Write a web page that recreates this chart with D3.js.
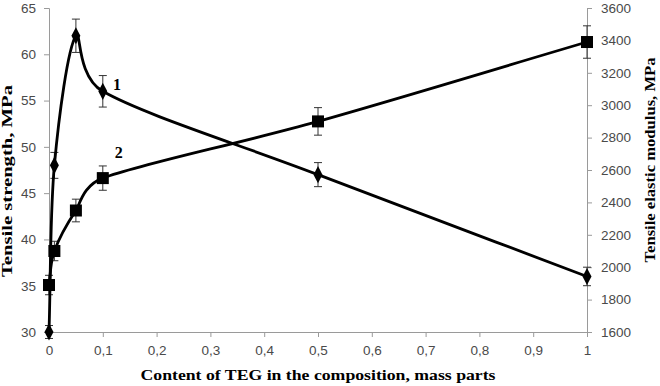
<!DOCTYPE html>
<html>
<head>
<meta charset="utf-8">
<script src="https://cdn.jsdelivr.net/npm/d3@7"></script>
<style>
  body { margin: 0; background: #fff; }
  .tick text { font-family: "Liberation Sans", Arial, sans-serif; font-size: 13.5px; fill: #4a4a4a; }
  .title { font-family: "Liberation Serif", "Times New Roman", serif; font-weight: bold; font-size: 14.5px; fill: #000; }
  .num { font-family: "Liberation Serif", "Times New Roman", serif; font-weight: bold; font-size: 16px; fill: #000; }
</style>
</head>
<body>
<div id="chart"></div>
<script>
// data
const teg = [0, 0.01, 0.05, 0.1, 0.5, 1];
const strength = [30, 48, 62, 56, 47, 36];          // MPa, left axis
const strengthErr = [0.7, 1.4, 1.8, 1.7, 1.3, 1.0];
const modulus = [1890, 2100, 2350, 2550, 2900, 3390]; // MPa, right axis
const modulusErr = [60, 60, 70, 75, 85, 100];
const xTicks = [0, 0.1, 0.2, 0.3, 0.4, 0.5, 0.6, 0.7, 0.8, 0.9, 1];
const leftTicks = [30, 35, 40, 45, 50, 55, 60, 65];
const rightTicks = [1600, 1800, 2000, 2200, 2400, 2600, 2800, 3000, 3200, 3400, 3600];

const W = 660, H = 386;
const margin = {top: 8, right: 73, bottom: 54, left: 49};

const svg = d3.select("#chart").append("svg")
    .attr("width", W)
    .attr("height", H);

const x = d3.scaleLinear().domain([0, 1]).range([margin.left, W - margin.right]);
const yL = d3.scaleLinear().domain([30, 65]).range([H - margin.bottom, margin.top]);
const yR = d3.scaleLinear().domain([1600, 3600]).range([H - margin.bottom, margin.top]);

const fmt = d => String(d).replace(".", ",");

// axes
const gx = svg.append("g")
    .attr("transform", `translate(0,${H - margin.bottom})`)
    .call(d3.axisBottom(x).tickValues(xTicks).tickFormat(fmt).tickSize(5).tickPadding(8));
const gl = svg.append("g")
    .attr("transform", `translate(${margin.left},0)`)
    .call(d3.axisLeft(yL).tickValues(leftTicks).tickSize(5).tickPadding(8));
const gr = svg.append("g")
    .attr("transform", `translate(${W - margin.right},0)`)
    .call(d3.axisRight(yR).tickValues(rightTicks).tickFormat(d => String(d)).tickSize(5).tickPadding(9));
[gx, gl, gr].forEach(g => {
    g.select(".domain").attr("stroke", "#9a9a9a");
    g.selectAll(".tick line").attr("stroke", "#9a9a9a");
});

// error bars
function errorBars(vals, errs, y) {
    const g = svg.append("g")
        .attr("stroke", "#333").attr("stroke-width", 1).attr("fill", "none");
    teg.forEach((t, i) => {
        const cx = x(t), top = y(vals[i] + errs[i]), bot = y(vals[i] - errs[i]);
        g.append("line").attr("x1", cx).attr("x2", cx).attr("y1", top).attr("y2", bot);
        g.append("line").attr("x1", cx - 4).attr("x2", cx + 4).attr("y1", top).attr("y2", top);
        g.append("line").attr("x1", cx - 4).attr("x2", cx + 4).attr("y1", bot).attr("y2", bot);
    });
}
errorBars(strength, strengthErr, yL);
errorBars(modulus, modulusErr, yR);

// Excel-style smoothed line (bezier control points limited to half segment length)
function smoothPath(pts) {
    const p = d3.path();
    const dist = (a, b) => Math.hypot(a[0] - b[0], a[1] - b[1]);
    p.moveTo(pts[0][0], pts[0][1]);
    for (let i = 0; i < pts.length - 1; i++) {
        const first = i === 0, last = i === pts.length - 2;
        const p0 = pts[first ? i : i - 1], p1 = pts[i], p2 = pts[i + 1], p3 = pts[last ? i + 1 : i + 2];
        const d02 = dist(p0, p2), d12 = dist(p1, p2), d13 = dist(p1, p3);
        let f, g;
        if (d02 / 6 < d12 / 2 && d13 / 6 < d12 / 2) {
            f = first ? 1 / 3 : 1 / 6;
            g = last ? 1 / 3 : 1 / 6;
        } else if (d02 / 6 >= d12 / 2 && d13 / 6 >= d12 / 2) {
            f = d12 / d02 / 2; g = d12 / d13 / 2;
        } else if (d02 / 6 >= d12 / 2) {
            f = d12 / d02 / 2; g = f;
        } else {
            g = d12 / d13 / 2; f = g;
        }
        p.bezierCurveTo(
            p1[0] + f * (p2[0] - p0[0]), p1[1] + f * (p2[1] - p0[1]),
            p2[0] - g * (p3[0] - p1[0]), p2[1] - g * (p3[1] - p1[1]),
            p2[0], p2[1]);
    }
    return p.toString();
}

svg.append("path")
    .attr("d", smoothPath(strength.map((d, i) => [x(teg[i]), yL(d)])))
    .attr("fill", "none").attr("stroke", "#000").attr("stroke-width", 2.8);
svg.append("path")
    .attr("d", smoothPath(modulus.map((d, i) => [x(teg[i]), yR(d)])))
    .attr("fill", "none").attr("stroke", "#000").attr("stroke-width", 2.8);

// markers
svg.append("g").selectAll("path").data(strength).join("path")
    .attr("d", d3.symbol(d3.symbolDiamond, 70))
    .attr("transform", (d, i) => `translate(${x(teg[i])},${yL(d)}) scale(1,1.1)`)
    .attr("fill", "#000");
svg.append("g").selectAll("rect").data(modulus).join("rect")
    .attr("x", (d, i) => x(teg[i]) - 6)
    .attr("y", d => yR(d) - 6)
    .attr("width", 12).attr("height", 12)
    .attr("fill", "#000");

// curve labels
svg.append("text").attr("class", "num").attr("x", x(0.119)).attr("y", yL(56.1)).text("1");
svg.append("text").attr("class", "num").attr("x", x(0.122)).attr("y", yL(48.8)).text("2");

// axis titles
svg.append("text").attr("class", "title")
    .attr("text-anchor", "middle")
    .attr("textLength", 192).attr("lengthAdjust", "spacingAndGlyphs")
    .attr("transform", "translate(12,181) rotate(-90)")
    .text("Tensile strength, MPa");
svg.append("text").attr("class", "title")
    .attr("text-anchor", "middle")
    .attr("textLength", 205).attr("lengthAdjust", "spacingAndGlyphs")
    .attr("transform", "translate(655,160) rotate(-90)")
    .text("Tensile elastic modulus, MPa");
svg.append("text").attr("class", "title")
    .attr("text-anchor", "middle")
    .attr("textLength", 355).attr("lengthAdjust", "spacingAndGlyphs")
    .attr("x", 318).attr("y", 380)
    .text("Content of TEG in the composition, mass parts");
</script>
</body>
</html>
